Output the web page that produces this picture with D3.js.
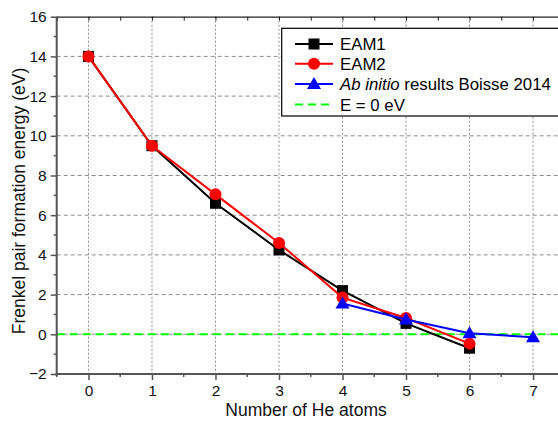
<!DOCTYPE html>
<html><head><meta charset="utf-8">
<script src="https://cdn.jsdelivr.net/npm/d3@7"></script>
<style>
html,body{margin:0;padding:0;background:#fff;}
svg{display:block;font-family:"Liberation Sans",Arial,sans-serif;}
</style></head>
<body>
<svg id="c" width="558" height="424"></svg>
<script>
const heAtoms = [0,1,2,3,4,5,6];
const eam1 = [14.0, 9.5, 6.6, 4.25, 2.2, 0.55, -0.7];
const eam2 = [14.0, 9.5, 7.05, 4.6, 1.85, 0.82, -0.47];
const abInitioX = [4,5,6,7];
const abInitio = [1.55, 0.75, 0.05, -0.15];
const xTicks = [0,1,2,3,4,5,6,7];
const yTicks = [-2,0,2,4,6,8,10,12,14,16];
const legendLabels = ["EAM1","EAM2","Ab initio results Boisse 2014","E = 0 eV"];

const svg = d3.select("#c");
const L = 56.7, R = 564.8, T = 16.7, B = 374;
const x = d3.scaleLinear().domain([-0.5,7.5]).range([L,R]);
const y = d3.scaleLinear().domain([-2,16]).range([B,T]);

// grid
const g = svg.append("g");
g.selectAll(".hg").data(yTicks.filter(d=>d>-2&&d<16)).enter().append("line")
 .attr("x1",L).attr("x2",R).attr("y1",d=>y(d)).attr("y2",d=>y(d))
 .attr("stroke","#8c8c8c").attr("stroke-width",1).attr("stroke-dasharray","4,3");
g.selectAll(".vg").data(xTicks).enter().append("line")
 .attr("y1",T).attr("y2",B).attr("x1",d=>x(d)).attr("x2",d=>x(d))
 .attr("stroke","#8c8c8c").attr("stroke-width",1).attr("stroke-dasharray","2,2");

// zero line
svg.append("line").attr("x1",L).attr("x2",R).attr("y1",y(0)).attr("y2",y(0))
 .attr("stroke","#00ff00").attr("stroke-width",2).attr("stroke-dasharray","8,5");

// top axis
const topAx = d3.axisTop(x).tickValues(d3.range(-0.5,7.51,0.5)).tickSize(-4).tickFormat("");
svg.append("g").attr("transform",`translate(0,${T})`).call(topAx)
 .call(s=>{s.select(".domain").attr("stroke","#222").attr("stroke-width",1.3);s.selectAll("line").attr("stroke","#222");});

// bottom axis
const bot = svg.append("g").attr("transform",`translate(0,${B})`);
bot.call(d3.axisBottom(x).tickValues(xTicks).tickSize(6).tickPadding(5).tickFormat(d3.format("d")));
bot.selectAll(".minor").data(d3.range(-0.5,7.51,1)).enter().append("line").attr("class","minor")
 .attr("x1",d=>x(d)).attr("x2",d=>x(d)).attr("y1",0).attr("y2",3);
bot.select(".domain").attr("stroke","#555").attr("stroke-width",2).attr("d",`M${L-1},0H${R}`);
bot.selectAll("line").attr("stroke","#555").attr("stroke-width",1.5);
bot.selectAll("text").attr("font-size","15.5px").attr("fill","#111").attr("font-family","Liberation Sans, Arial, sans-serif");

// left axis
const lef = svg.append("g").attr("transform",`translate(${L},0)`);
lef.call(d3.axisLeft(y).tickValues(yTicks).tickSize(6).tickPadding(4).tickFormat(d3.format("d")));
lef.selectAll(".minor").data(d3.range(-1,16,2)).enter().append("line").attr("class","minor")
 .attr("y1",d=>y(d)).attr("y2",d=>y(d)).attr("x1",0).attr("x2",-3);
lef.select(".domain").attr("stroke","#555").attr("stroke-width",2).attr("d",`M0,${T}V${B+2}`);
lef.selectAll("line").attr("stroke","#555").attr("stroke-width",1.5);
lef.selectAll("text").attr("font-size","15.5px").attr("fill","#111").attr("font-family","Liberation Sans, Arial, sans-serif");

// titles
svg.append("text").attr("x",306).attr("y",415.5).attr("text-anchor","middle")
 .attr("font-size","17.5px").attr("fill","#111").text("Number of He atoms");
svg.append("text").attr("transform","translate(25.2,201) rotate(-90)").attr("text-anchor","middle")
 .attr("font-size","17.5px").attr("fill","#111").text("Frenkel pair formation energy (eV)");

// series
const line = d3.line().x(d=>x(d[0])).y(d=>y(d[1]));
const s1 = heAtoms.map((h,i)=>[h,eam1[i]]);
const s2 = heAtoms.map((h,i)=>[h,eam2[i]]);
const s3 = abInitioX.map((h,i)=>[h,abInitio[i]]);
const tri = d3.symbol().type(d3.symbolTriangle).size(85);

function drawSeries(data,color,shape){
  svg.append("path").datum(data).attr("d",line).attr("fill","none").attr("stroke",color).attr("stroke-width",2);
  const m = svg.append("g");
  data.forEach(d=>{
    const cx=x(d[0]), cy=y(d[1]);
    if(shape==="sq") m.append("rect").attr("x",cx-5.5).attr("y",cy-5.5).attr("width",11).attr("height",11).attr("fill",color);
    else if(shape==="ci") m.append("circle").attr("cx",cx).attr("cy",cy).attr("r",6).attr("fill",color);
    else m.append("path").attr("d",tri).attr("transform",`translate(${cx},${cy+1})`).attr("fill",color);
  });
}
drawSeries(s1,"#000","sq");
drawSeries(s2,"#ff0000","ci");
drawSeries(s3,"#0000ff","tr");

// legend
const lg = svg.append("g");
lg.append("rect").attr("x",281.7).attr("y",28.3).attr("width",300).attr("height",87.7)
 .attr("fill","#fff").attr("stroke","#000").attr("stroke-width",1.2);
const rows = [44,63.8,84,104.5];
const colors = ["#000","#ff0000","#0000ff","#00ff00"];
legendLabels.forEach((lab,i)=>{
  const cy = rows[i];
  const ln = lg.append("line").attr("x1",295).attr("x2",333).attr("y1",cy).attr("y2",cy)
    .attr("stroke",colors[i]).attr("stroke-width",2);
  if(i===3) ln.attr("stroke-dasharray","8,5");
  if(i===0) lg.append("rect").attr("x",314-5.5).attr("y",cy-5.5).attr("width",11).attr("height",11).attr("fill","#000");
  if(i===1) lg.append("circle").attr("cx",314).attr("cy",cy).attr("r",6).attr("fill","#ff0000");
  if(i===2) lg.append("path").attr("d",tri).attr("transform",`translate(314,${cy+1})`).attr("fill","#0000ff");
  const t = lg.append("text").attr("x",340).attr("y",cy+6).attr("font-size","16.8px").attr("fill","#000");
  if(i===2){
    t.append("tspan").attr("font-style","italic").text("Ab initio");
    t.append("tspan").text(" results Boisse 2014");
  } else t.text(lab);
});
</script>
</body></html>
